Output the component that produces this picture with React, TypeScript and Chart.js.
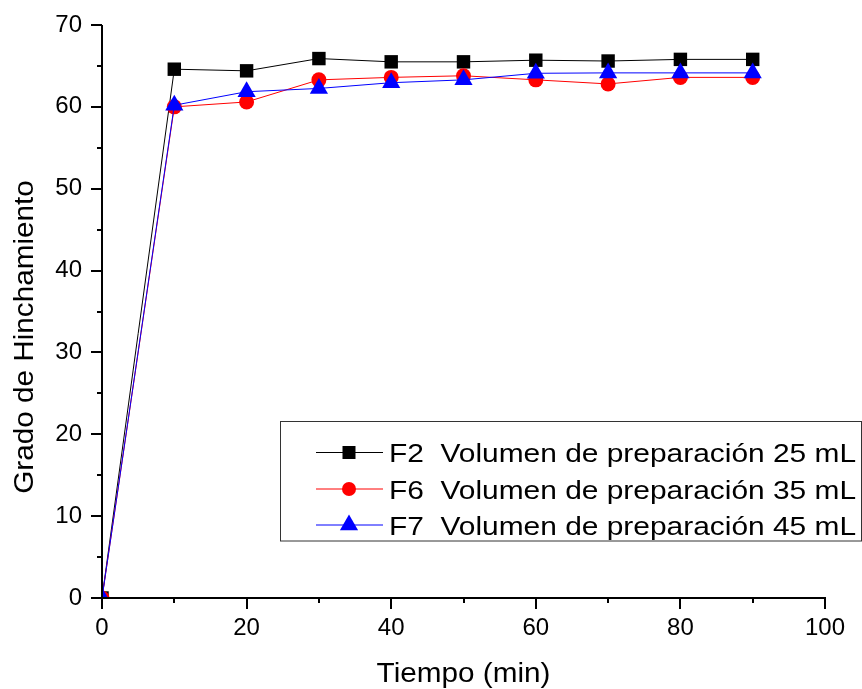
import React, { useEffect, useRef } from "react";
import { Chart, registerables } from "chart.js";

Chart.register(...registerables);

// Swelling degree over time for three preparation volumes
const tiempo = [0, 10, 20, 30, 40, 50, 60, 70, 80, 90];
const f2 = [0, 64.6, 64.4, 65.9, 65.5, 65.5, 65.7, 65.6, 65.8, 65.8];
const f6 = [0, 60.0, 60.6, 63.3, 63.6, 63.8, 63.3, 62.8, 63.6, 63.6];
const f7 = [0, 60.2, 61.85, 62.25, 62.95, 63.3, 64.1, 64.15, 64.15, 64.15];

const seriesLabels = [
  "F2  Volumen de preparación 25 mL",
  "F6  Volumen de preparación 35 mL",
  "F7  Volumen de preparación 45 mL",
];
const seriesColors = ["#000000", "#ff0000", "#0000ff"];
const seriesMarkers = ["rect", "circle", "triangle"];

const xTitle = "Tiempo (min)";
const yTitle = "Grado de Hinchamiento";
const xMin = 0, xMax = 100, xStep = 20;
const yMin = 0, yMax = 70, yStep = 10;

const FONT = '"Liberation Sans", Arial, sans-serif';

function drawMarker(ctx: CanvasRenderingContext2D, kind: string, x: number, y: number, color: string) {
  ctx.fillStyle = color;
  ctx.beginPath();
  if (kind === "rect") {
    ctx.rect(x - 6.5, y - 6.5, 13, 13);
  } else if (kind === "circle") {
    ctx.arc(x, y, 7, 0, Math.PI * 2);
  } else {
    const r = 10.5;
    ctx.moveTo(x, y - r);
    ctx.lineTo(x + r * Math.cos(Math.PI / 6), y + r / 2);
    ctx.lineTo(x - r * Math.cos(Math.PI / 6), y + r / 2);
    ctx.closePath();
  }
  ctx.fill();
}

// Draws the L-shaped axes with major/minor outward ticks, axis titles and the boxed legend
const frame = {
  id: "frame",
  afterDatasetsDraw(chart: any) {
    const { ctx, chartArea, scales } = chart;
    const { left, right, top, bottom } = chartArea;
    const L = Math.round(left);
    const B = Math.round(bottom);
    ctx.save();
    ctx.strokeStyle = "#000";
    ctx.lineWidth = 2;
    ctx.beginPath();
    ctx.moveTo(L, top);
    ctx.lineTo(L, B + 1);
    ctx.moveTo(L - 1, B);
    ctx.lineTo(right + 1, B);
    for (let v = xMin; v <= xMax; v += xStep / 2) {
      const px = Math.round(scales.x.getPixelForValue(v));
      const len = v % xStep === 0 ? 11 : 5;
      ctx.moveTo(px, B);
      ctx.lineTo(px, B + len);
    }
    for (let v = yMin; v <= yMax; v += yStep / 2) {
      const py = Math.round(scales.y.getPixelForValue(v));
      const len = v % yStep === 0 ? 11 : 5;
      ctx.moveTo(L, py);
      ctx.lineTo(L - len, py);
    }
    ctx.stroke();

    // axis titles
    ctx.fillStyle = "#000";
    ctx.font = `27px ${FONT}`;
    ctx.textAlign = "center";
    ctx.textBaseline = "alphabetic";
    ctx.save();
    ctx.translate((left + right) / 2, 682);
    ctx.scale(1.1, 1);
    ctx.fillText(xTitle, 0, 0);
    ctx.restore();
    ctx.save();
    ctx.translate(33, 337);
    ctx.rotate(-Math.PI / 2);
    ctx.scale(1.1, 1);
    ctx.fillText(yTitle, 0, 0);
    ctx.restore();

    // legend
    ctx.lineWidth = 1;
    ctx.strokeStyle = "#333";
    ctx.strokeRect(280.5, 421.5, 581, 119.5);
    const rows = [452.5, 489, 525];
    chart.data.datasets.forEach((ds: any, i: number) => {
      const y = rows[i];
      ctx.strokeStyle = ds.borderColor;
      ctx.lineWidth = 1;
      ctx.beginPath();
      ctx.moveTo(316, y);
      ctx.lineTo(383, y);
      ctx.stroke();
      drawMarker(ctx, ds.pointStyle, 349, y, ds.borderColor);
      ctx.save();
      ctx.fillStyle = "#000";
      ctx.font = `26px ${FONT}`;
      ctx.textAlign = "left";
      ctx.translate(389, y + 9.5);
      ctx.scale(1.15, 1);
      ctx.fillText(ds.label, 0, 0);
      ctx.restore();
    });
    ctx.restore();
  },
};

export default function App() {
  const ref = useRef<HTMLCanvasElement | null>(null);

  useEffect(() => {
    const series = [f2, f6, f7];
    const radii = [9.5, 7.5, 10.5];
    const chart = new Chart(ref.current as HTMLCanvasElement, {
      type: "line",
      data: {
        datasets: series.map((vals, i) => ({
          label: seriesLabels[i],
          data: tiempo.map((t, j) => ({ x: t, y: vals[j] })),
          borderColor: seriesColors[i],
          backgroundColor: seriesColors[i],
          pointBackgroundColor: seriesColors[i],
          pointBorderColor: seriesColors[i],
          pointBorderWidth: 0,
          pointStyle: seriesMarkers[i],
          pointRadius: radii[i],
          borderWidth: 1,
          tension: 0,
          order: 3 - i,
        })),
      },
      options: {
        animation: false,
        responsive: false,
        events: [],
        layout: { padding: { left: 0, top: 25, right: 37, bottom: 0 } },
        plugins: { legend: { display: false }, tooltip: { enabled: false } },
        scales: {
          x: {
            type: "linear",
            min: xMin,
            max: xMax,
            grid: { display: false, drawTicks: false },
            border: { display: false },
            ticks: {
              stepSize: xStep,
              padding: 16,
              color: "#000",
              font: { family: FONT, size: 24 },
              maxRotation: 0,
            },
            afterFit: (s: any) => {
              s.height = 91;
              s.paddingLeft = 0;
              s.paddingRight = 0;
            },
          },
          y: {
            type: "linear",
            min: yMin,
            max: yMax,
            grid: { display: false, drawTicks: false },
            border: { display: false },
            ticks: {
              stepSize: yStep,
              padding: 20,
              color: "#000",
              font: { family: FONT, size: 24 },
            },
            afterFit: (s: any) => {
              s.width = 102;
              s.paddingTop = 0;
              s.paddingBottom = 0;
            },
          },
        },
      },
      plugins: [frame],
    } as any);
    return () => chart.destroy();
  }, []);

  return (
    <div style={{ position: "fixed", left: 0, top: 0, width: 862, height: 689, background: "#fff" }}>
      <canvas ref={ref} width={862} height={689} style={{ display: "block" }} />
    </div>
  );
}
